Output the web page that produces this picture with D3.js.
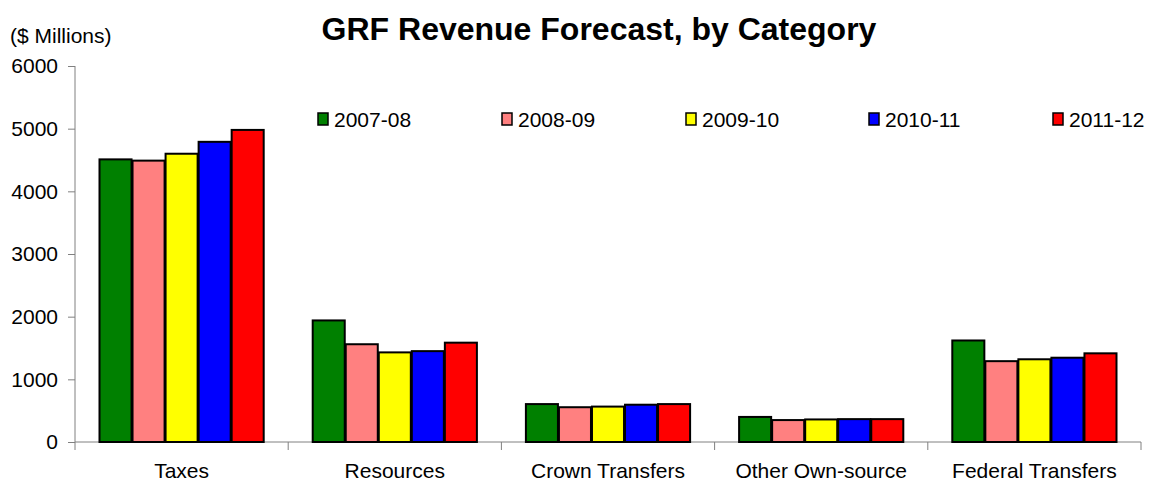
<!DOCTYPE html>
<html><head><meta charset="utf-8">
<script src="https://cdn.jsdelivr.net/npm/d3@7/dist/d3.min.js"></script>
<style>body{margin:0;background:#fff}svg{display:block;font-family:"Liberation Sans",Arial,sans-serif}</style>
</head><body><svg id="c" width="1149" height="481"></svg>
<script>
const categories = ["Taxes","Resources","Crown Transfers","Other Own-source","Federal Transfers"];
const seriesNames = ["2007-08","2008-09","2009-10","2010-11","2011-12"];
const s2007 = [4510,1940,605,400,1620];
const s2008 = [4490,1560,555,350,1290];
const s2009 = [4600,1430,565,360,1320];
const s2010 = [4790,1450,595,365,1345];
const s2011 = [4980,1585,605,365,1415];
const seriesValues = [s2007,s2008,s2009,s2010,s2011];
const colors = ["#008000","#ff8080","#ffff00","#0000ff","#ff0000"];
const yTicks = [0,1000,2000,3000,4000,5000,6000];

const svg = d3.select("#c");
const m = {l:75, r:1141, t:66, b:442};
const x0 = d3.scaleBand().domain(categories).range([m.l,m.r]).paddingInner(0).paddingOuter(0);
const x1 = d3.scaleBand().domain(seriesNames).range([24, x0.bandwidth()-24]).padding(0);
const y = d3.scaleLinear().domain([0,6000]).range([m.b,m.t]);

// y axis
const ya = svg.append("g").attr("transform",`translate(${m.l},0)`)
  .call(d3.axisLeft(y).tickValues(yTicks).tickSize(7).tickPadding(10).tickFormat(d3.format("d")));
ya.select(".domain").attr("stroke","#808080").attr("d",`M0,${m.t}V${m.b}`);
ya.selectAll(".tick line").attr("stroke","#808080");
ya.selectAll(".tick text").attr("font-size",21).attr("fill","#000").attr("font-family","Liberation Sans, Arial, sans-serif");

// x axis
const xa = svg.append("g").attr("transform",`translate(0,${m.b})`);
xa.append("line").attr("x1",m.l).attr("x2",m.r).attr("stroke","#808080");
const bounds = categories.map(c=>x0(c)).concat([m.r]);
xa.selectAll("line.t").data(bounds).join("line").attr("class","t")
  .attr("x1",d=>d).attr("x2",d=>d).attr("y1",0).attr("y2",8).attr("stroke","#808080");
xa.selectAll("text").data(categories).join("text")
  .attr("x",d=>x0(d)+x0.bandwidth()/2).attr("y",36).attr("text-anchor","middle")
  .attr("font-size",21).text(d=>d);

// bars
seriesNames.forEach((s,i)=>{
  svg.append("g").selectAll("rect").data(seriesValues[i]).join("rect")
    .attr("x",(d,j)=>x0(categories[j])+x1(s)+0.5)
    .attr("width",x1.bandwidth()-1)
    .attr("y",d=>y(d))
    .attr("height",d=>y(0)-y(d))
    .attr("fill",colors[i]).attr("stroke","#000").attr("stroke-width",2);
});

// legend
const legX = [318,502,686,869,1053];
const lg = svg.append("g");
seriesNames.forEach((s,i)=>{
  lg.append("rect").attr("x",legX[i]).attr("y",113).attr("width",10).attr("height",12)
    .attr("fill",colors[i]).attr("stroke","#000").attr("stroke-width",1.5);
  lg.append("text").attr("x",legX[i]+16).attr("y",127).attr("font-size",21).text(s);
});

// titles
svg.append("text").attr("x",599).attr("y",40).attr("text-anchor","middle")
  .attr("font-size",32).attr("font-weight","bold").text("GRF Revenue Forecast, by Category");
svg.append("text").attr("x",10).attr("y",43).attr("font-size",21).text("($ Millions)");
</script></body></html>
